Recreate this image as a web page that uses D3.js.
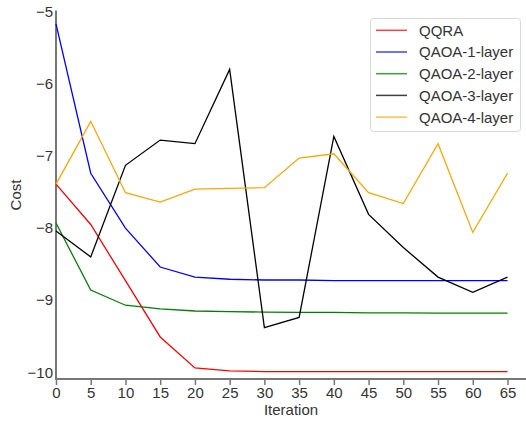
<!DOCTYPE html>
<html>
<head>
<meta charset="utf-8">
<script src="https://cdn.jsdelivr.net/npm/d3@7"></script>
<style>
body{margin:0;background:#fff;}
text{font-family:"Liberation Sans",Arial,sans-serif;fill:#333;}
</style>
</head>
<body>
<svg width="526" height="422"></svg>
<script>
var iters=[0,5,10,15,20,25,30,35,40,45,50,55,60,65];
var qqra=[-7.39,-7.95,-8.73,-9.51,-9.94,-9.98,-9.99,-9.99,-9.99,-9.99,-9.99,-9.99,-9.99,-9.99];
var qaoa1=[-5.17,-7.24,-8.0,-8.54,-8.68,-8.71,-8.72,-8.72,-8.73,-8.73,-8.73,-8.73,-8.73,-8.73];
var qaoa2=[-7.93,-8.86,-9.07,-9.12,-9.15,-9.16,-9.165,-9.17,-9.17,-9.175,-9.175,-9.18,-9.18,-9.18];
var qaoa3=[-8.04,-8.40,-7.13,-6.78,-6.83,-5.80,-9.38,-9.24,-6.73,-7.81,-8.27,-8.68,-8.89,-8.68];
var qaoa4=[-7.39,-6.52,-7.51,-7.64,-7.46,-7.45,-7.44,-7.03,-6.97,-7.51,-7.66,-6.83,-8.06,-7.24];
var names=['QQRA','QAOA-1-layer','QAOA-2-layer','QAOA-3-layer','QAOA-4-layer'];
var colors=['red','blue','green','black','orange'];
var series=[qqra,qaoa1,qaoa2,qaoa3,qaoa4];
var xTicks=[0,5,10,15,20,25,30,35,40,45,50,55,60,65];
var yTicks=[-5,-6,-7,-8,-9,-10];

var svg=d3.select('svg');
var x=d3.scaleLinear().domain([0,65]).range([56,507.5]);
var y=d3.scaleLinear().domain([-10,-5]).range([372.3,11.7]);

// spines
svg.append('line').attr('x1',56).attr('x2',56).attr('y1',10.5).attr('y2',379).attr('stroke','#777').attr('stroke-width',2);
svg.append('line').attr('x1',55).attr('x2',526).attr('y1',379).attr('y2',379).attr('stroke','#777').attr('stroke-width',2);

var xa=svg.append('g').attr('transform','translate(0,379)')
  .call(d3.axisBottom(x).tickValues(xTicks).tickSize(6).tickPadding(2));
xa.select('.domain').remove();
xa.selectAll('line').attr('stroke','#777').attr('stroke-width',1.5);
xa.selectAll('text').attr('font-size',15).attr('fill','#333');

var ya=svg.append('g').attr('transform','translate(56,0)')
  .call(d3.axisLeft(y).tickValues(yTicks).tickFormat(d3.format('d')).tickSize(0).tickPadding(3));
ya.select('.domain').remove();
ya.selectAll('text').attr('font-size',15).attr('fill','#333');

svg.append('text').attr('x',291).attr('y',415).attr('text-anchor','middle').attr('font-size',15).text('Iteration');
svg.append('text').attr('transform','translate(21,195) rotate(-90)').attr('text-anchor','middle').attr('font-size',15).text('Cost');

var line=d3.line().x(function(d,i){return x(iters[i]);}).y(function(d){return y(d);});
series.forEach(function(s,k){
  svg.append('path').attr('d',line(s)).attr('fill','none').attr('stroke',colors[k]).attr('stroke-width',1.3);
});

// legend
var lg=svg.append('g');
lg.append('rect').attr('x',370.5).attr('y',18.5).attr('width',150).attr('height',113).attr('rx',3)
  .attr('fill','white').attr('fill-opacity',0.8).attr('stroke','#d8d8d8');
names.forEach(function(n,k){
  var yy=30.3+k*21.7;
  lg.append('line').attr('x1',376).attr('x2',407).attr('y1',yy).attr('y2',yy).attr('stroke',colors[k]).attr('stroke-width',1.5).attr('stroke-opacity',0.75);
  lg.append('text').attr('x',419).attr('y',yy).attr('dy','0.36em').attr('font-size',15).text(n);
});
</script>
</body>
</html>
